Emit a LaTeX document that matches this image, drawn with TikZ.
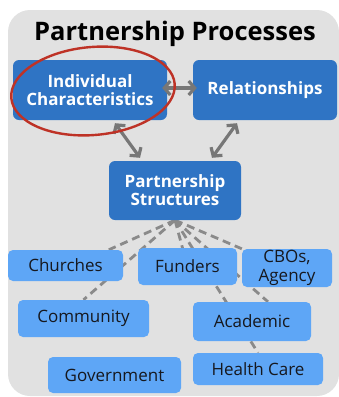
\documentclass[tikz,border=0pt]{standalone}
\usepackage{fontspec}
\setmainfont{Open Sans}
\usetikzlibrary{arrows.meta,calc,backgrounds}
\definecolor{panelgray}{HTML}{E1E1E1}
\definecolor{darkblue}{HTML}{2F74C4}
\definecolor{lightblue}{HTML}{5EA6F6}
\definecolor{textdark}{HTML}{16181E}
\definecolor{arrowgray}{HTML}{777777}
\definecolor{dashgray}{HTML}{8A8A8A}
\definecolor{ringred}{HTML}{BE3226}
\tikzset{
  core/.style={fill=darkblue, text=white, font=\bfseries\fontsize{17}{18}\selectfont,
    rounded corners=6pt, align=center, inner sep=0pt},
  group/.style={fill=lightblue, text=textdark, font=\fontsize{17}{19}\selectfont,
    rounded corners=5pt, align=center, inner sep=0pt},
  link/.style={draw=arrowgray, line width=3.2pt,
    {Straight Barb[length=6pt,width=14pt]}-{Straight Barb[length=6pt,width=14pt]}},
  tie/.style={draw=dashgray, line width=2.8pt, dash pattern=on 8pt off 5pt},
  ring/.style={draw=ringred, line width=2.4pt},
}
\begin{document}
\begin{tikzpicture}[x=1pt,y=-1pt]
\useasboundingbox (0,0) rectangle (339,397);
\node[font=\bfseries\fontsize{25.5}{28}\selectfont] (title) at (175,34) {Partnership Processes};

\node[core, minimum width=154pt, minimum height=60pt] (indiv) at (90,90) {Individual\\Characteristics};
\node[core, minimum width=144pt, minimum height=60pt] (rel) at (265,90) {Relationships};
\node[core, minimum width=132pt, minimum height=59pt] (struct) at (175,190.5) {Partnership\\Structures};

\node[group, minimum width=115pt, minimum height=31pt] (churches) at (65.5,265.5) {Churches};
\node[group, minimum width=99pt, minimum height=37pt] (funders) at (187.5,266.5) {Funders};
\node[group, minimum width=90pt, minimum height=38pt] (cbos) at (287,268) {CBOs,\\Agency};
\node[group, minimum width=131pt, minimum height=37pt] (community) at (83.5,318.5) {Community};
\node[group, minimum width=118pt, minimum height=39pt] (academic) at (252,321.5) {Academic};
\node[group, minimum width=133pt, minimum height=36pt] (govt) at (114.5,375) {Government};
\node[group, minimum width=130pt, minimum height=32pt] (health) at (258,369) {Health Care};

\coordinate (hub) at (struct.south);
\begin{pgfonlayer}{background}
\fill[panelgray, rounded corners=22pt] (8,10) rectangle (339,396);
\draw[tie] (hub) -- ($(churches.north)!0.75!(churches.north east)$);
\draw[tie] (hub) -- (community.north);
\draw[tie] (hub) -- (funders.center);
\draw[tie] (hub) -- (health.north);
\draw[tie] (hub) -- ($(academic.north)!0.27!(academic.north east)$);
\draw[tie] (hub) -- (cbos.north west);
\end{pgfonlayer}

\draw[link] ([xshift=-5pt,yshift=2pt]indiv.east) -- ([xshift=4pt,yshift=2pt]rel.west);
\draw[link] ([xshift=25pt,yshift=-3pt]indiv.south) -- ([xshift=-35pt,yshift=3pt]struct.north);
\draw[link] ([xshift=-28pt,yshift=-3pt]rel.south) -- ([xshift=37pt,yshift=3pt]struct.north);

\draw[ring] (93,91) ellipse [x radius=82pt, y radius=44pt, rotate=5];
\end{tikzpicture}
\end{document}
